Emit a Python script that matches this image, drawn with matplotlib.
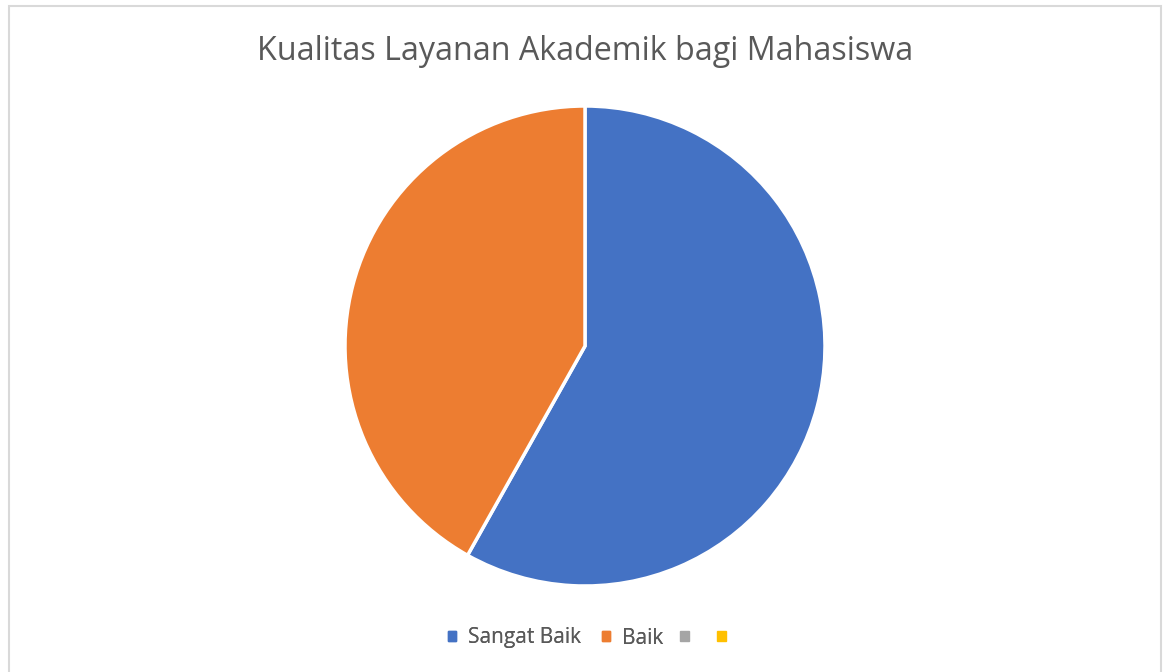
import matplotlib
matplotlib.use("Agg")
import matplotlib.pyplot as plt
from matplotlib.patches import Patch, Rectangle

categories = ["Sangat Baik", "Baik", "", ""]
values = [25, 18, 0, 0]
colors = ["#4472C4", "#ED7D31", "#A5A5A5", "#FFC000"]
title = "Kualitas Layanan Akademik bagi Mahasiswa"

W, H = 1168, 672
fig = plt.figure(figsize=(W / 100, H / 100), dpi=100)
fig.patch.set_facecolor("white")

# border
fig.add_artist(Rectangle((9 / W, -0.01), (1161 - 9) / W, 1 - 6 / H + 0.01,
                         transform=fig.transFigure, fill=False,
                         edgecolor="#D9D9D9", linewidth=1.5))

cx, cy, r = 585, 346, 240
ax = fig.add_axes([(cx - r) / W, (H - cy - r) / H, 2 * r / W, 2 * r / H])
nz = [(v, c) for v, c in zip(values, colors) if v > 0]
ax.pie([v for v, _ in nz], colors=[c for _, c in nz], startangle=90,
       counterclock=False, radius=1,
       wedgeprops=dict(edgecolor="white", linewidth=2.5))
ax.set_xlim(-1.0, 1.0)
ax.set_ylim(-1.0, 1.0)
ax.set_aspect("equal")
ax.axis("off")

fig.text(585 / W, 1 - 52 / H, title, ha="center", va="center",
         fontsize=23.2, color="#595959", family="Open Sans")

handles = [Patch(facecolor=c, edgecolor=c) for c in colors]
common = dict(frameon=False, handlelength=0.42, handleheight=0.42,
              borderpad=0, borderaxespad=0,
              prop=dict(family="Open Sans", size=15), labelcolor="#595959")
leg1 = fig.legend(handles[:2], categories[:2], loc="center left",
                  bbox_to_anchor=(447.5 / W, 1 - 638 / H), ncol=2,
                  handletextpad=0.55, columnspacing=1.0, **common)
fig.add_artist(leg1)
fig.legend(handles[2:], categories[2:], loc="center left",
           bbox_to_anchor=(680 / W, 1 - 638 / H), ncol=2,
           handletextpad=0.0, columnspacing=1.37, **common)

fig.savefig("out.png", dpi=100)
